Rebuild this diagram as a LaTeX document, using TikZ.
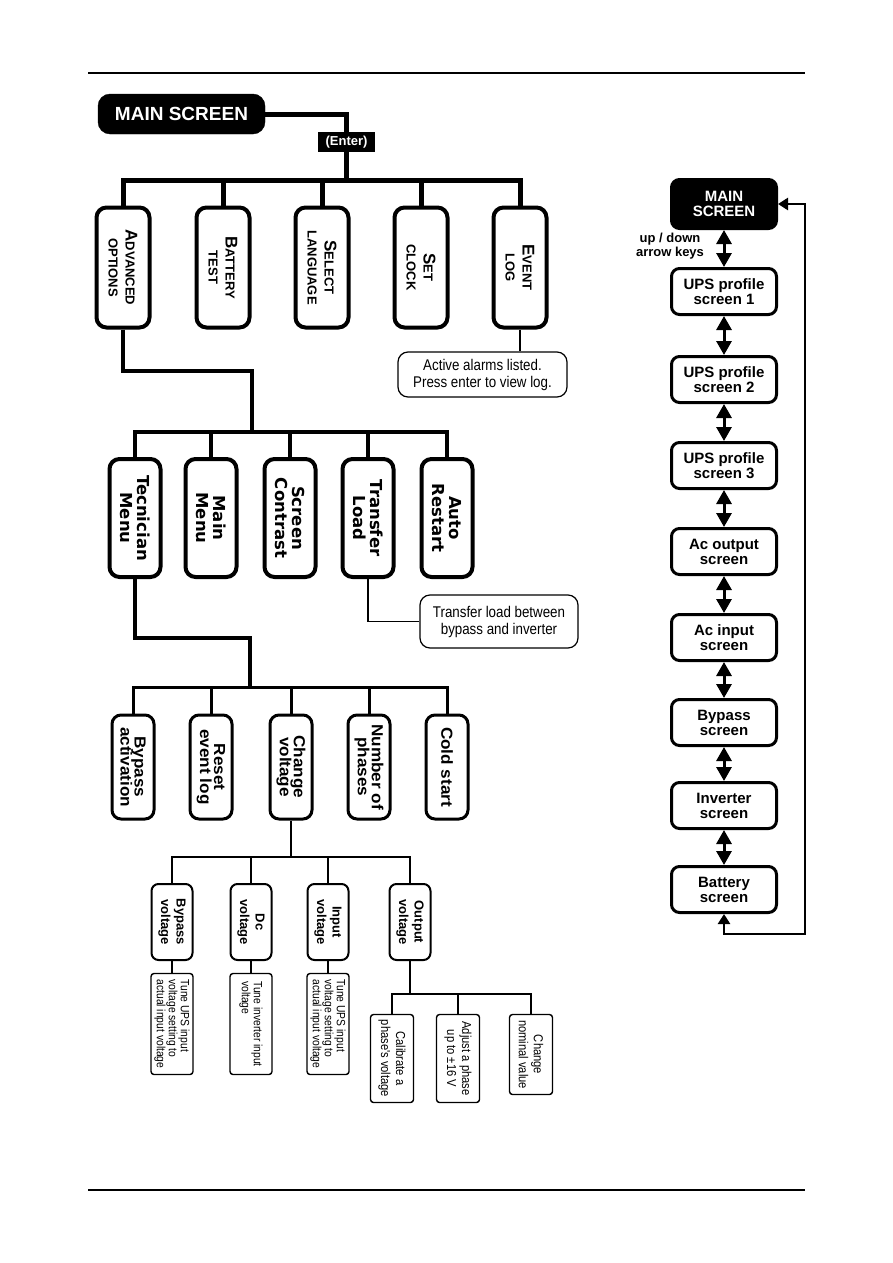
\documentclass[tikz,border=0pt]{standalone}
\usepackage{fontspec}
\setmainfont{Liberation Sans}
\newfontfamily\wideface{DejaVu Sans}
\newfontfamily\narrowface[FakeStretch=0.86]{Liberation Sans}
\newfontfamily\broadface[FakeStretch=1.07]{Liberation Sans}
\usepackage{graphicx}
\usepackage{xcolor}
\usepackage{tikz}
\usetikzlibrary{arrows.meta, positioning}
\definecolor{ink}{RGB}{0,0,0}
\newcommand{\vmid}[1]{\rotatebox{-90}{\vbox{\let\\\cr\lineskiplimit=-\maxdimen\halign{\hfil##\hfil\cr#1\crcr}}}}
\newcommand{\vleft}[1]{\rotatebox{-90}{\vbox{\let\\\cr\lineskiplimit=-\maxdimen\halign{##\hfil\cr#1\crcr}}}}
\newcommand{\capsc}[2]{{\fontsize{17}{16.5}\selectfont #1}{\fontsize{13}{16.5}\selectfont #2}}
\newcommand{\smsc}[1]{{\fontsize{13}{16.5}\selectfont #1}}

\begin{document}
\begin{tikzpicture}[x=1pt, y=-1pt,
    topbox/.style={rectangle, rounded corners=12pt, fill=ink, draw=ink, text=white, inner sep=0pt,
                   minimum width=167pt, minimum height=40pt, font=\fontsize{19}{20}\selectfont\bfseries},
    keytag/.style={rectangle, fill=ink, text=white, inner sep=0pt, minimum width=57pt, minimum height=20pt,
                   font=\fontsize{13}{14}\selectfont\bfseries},
    optbox/.style={rectangle, rounded corners=10pt, draw=ink, fill=white, line width=4pt, inner sep=0pt,
                   minimum width=53pt, minimum height=120pt, font=\fontsize{17}{17}\selectfont\bfseries},
    menubox/.style={rectangle, rounded corners=10pt, draw=ink, fill=white, line width=4pt, inner sep=0pt,
                    minimum width=51pt, minimum height=118pt, font=\wideface\bfseries\fontsize{16.5}{16.5}\selectfont},
    techbox/.style={rectangle, rounded corners=9pt, draw=ink, fill=white, line width=3pt, inner sep=0pt,
                    minimum width=42pt, minimum height=104pt, font=\broadface\bfseries\fontsize{16}{14}\selectfont},
    voltbox/.style={rectangle, rounded corners=7pt, draw=ink, fill=white, line width=2pt, inner sep=0pt,
                    minimum width=41pt, minimum height=76pt, font=\fontsize{13}{15.5}\selectfont\bfseries},
    descbox/.style={rectangle, rounded corners=3pt, draw=ink, fill=white, line width=1.4pt, inner sep=0pt,
                    minimum width=42pt, minimum height=101pt, font=\narrowface\fontsize{12}{12}\selectfont},
    leafbox/.style={rectangle, rounded corners=3pt, draw=ink, fill=white, line width=1.4pt, inner sep=0pt,
                    minimum width=43pt, minimum height=88pt, font=\narrowface\fontsize{13}{15}\selectfont},
    notebox/.style={rectangle, rounded corners=10pt, draw=ink, fill=white, line width=1.2pt, inner sep=0pt,
                    align=center, font=\narrowface\fontsize{15.5}{17}\selectfont},
    scrbox/.style={rectangle, rounded corners=8pt, draw=ink, fill=white, line width=3pt, inner sep=0pt,
                   minimum width=105pt, minimum height=46pt, align=center, font=\fontsize{15}{15}\selectfont\bfseries},
    scrtop/.style={scrbox, fill=ink, text=white, minimum height=49pt},
    wireA/.style={draw=ink, line width=5pt},
    wireB/.style={draw=ink, line width=4pt},
    wireC/.style={draw=ink, line width=3pt},
    wireD/.style={draw=ink, line width=1.6pt},
    thinwire/.style={draw=ink, line width=1.1pt},
    twoway/.style={draw=ink, line width=3pt, {Triangle[length=14pt,width=15pt]}-{Triangle[length=14pt,width=15pt]}},
    loopwire/.style={draw=ink, line width=2.5pt, {Triangle[length=10pt,width=12pt]}-{Triangle[length=10pt,width=12pt]}}
]
\useasboundingbox (0,0) rectangle (893,1263);
\draw[line width=1.3pt] (88,73) -- (805,73);
\draw[line width=1.3pt] (88,1190) -- (805,1190);

\node[topbox] (mainscr) at (181.5,114) {MAIN SCREEN};
\coordinate (hubA) at (346,180);
\draw[wireA] (mainscr.east) -| (hubA);
\node[keytag] (enterkey) at (346.5,142) {(Enter)};

\node[optbox] (advopt) at (123,267.5) {\vmid{\capsc{A}{DVANCED}\\\smsc{OPTIONS}}};
\node[optbox] (battest) at (223,267.5) {\vmid{\capsc{B}{ATTERY}\\\smsc{TEST}}};
\node[optbox] (sellang) at (322,267.5) {\vmid{\capsc{S}{ELECT}\\\smsc{LANGUAGE}}};
\node[optbox] (setclk) at (421,267.5) {\vmid{\capsc{S}{ET}\\\smsc{CLOCK}}};
\node[optbox] (evlog) at (520,267.5) {\vmid{\capsc{E}{VENT}\\\smsc{LOG}}};
\foreach \n in {advopt,battest,sellang,setclk,evlog}
  \draw[wireA] (hubA) -| (\n.north);

\node[notebox, minimum width=169pt, minimum height=45pt] (evnote) at (482.5,374.5) {Active alarms listed.\\Press enter to view log.};
\draw[thinwire] (evlog.south) -- (evlog.south |- evnote.north);

\coordinate (kneeA) at (252,371);
\coordinate (hubB) at (252,432);
\draw[wireB] (advopt.south) |- (kneeA) -- (hubB);

\node[menubox] (tecmenu) at (135,518) {\vmid{Tecnician\\Menu}};
\node[menubox] (mainmenu) at (211,518) {\vmid{Main\\Menu}};
\node[menubox] (scrcon) at (290,518) {\vmid{Screen\\Contrast}};
\node[menubox] (trload) at (368,518) {\vmid{Transfer\\Load}};
\node[menubox] (autors) at (447,518) {\vmid{Auto\\Restart}};
\foreach \n in {tecmenu,mainmenu,scrcon,trload,autors}
  \draw[wireB] (hubB) -| (\n.north);

\node[notebox, minimum width=158pt, minimum height=53pt] (trnote) at (499,621.5) {Transfer load between\\bypass and inverter};
\draw[thinwire] (trload.south) |- (trnote.west);

\coordinate (kneeB) at (250,638);
\coordinate (hubC) at (250,687);
\draw[wireB] (tecmenu.south) |- (kneeB) -- (hubC);

\node[techbox] (bypact) at (133,767) {\vmid{Bypass\\activation}};
\node[techbox] (resetlog) at (211,767) {\vmid{Reset\\event log}};
\node[techbox] (chgvolt) at (291,767) {\vmid{Change\\voltage}};
\node[techbox] (numph) at (369,767) {\vmid{Number of\\phases}};
\node[techbox] (coldst) at (447,767) {\vmid{Cold start}};
\foreach \n in {bypact,resetlog,chgvolt,numph,coldst}
  \draw[wireC] (hubC) -| (\n.north);

\coordinate (hubD) at (291,857);
\draw[wireD] (chgvolt.south) -- (hubD);
\node[voltbox] (bypvolt) at (172,922) {\vmid{Bypass\\voltage}};
\node[voltbox] (dcvolt) at (251,922) {\vmid{Dc\\voltage}};
\node[voltbox] (involt) at (328,922) {\vmid{Input\\voltage}};
\node[voltbox] (outvolt) at (410,922) {\vmid{Output\\voltage}};
\foreach \n in {bypvolt,dcvolt,involt,outvolt}
  \draw[wireD] (hubD) -| (\n.north);

\node[descbox] (bypdesc) at (172,1024) {\vleft{Tune UPS input\\voltage setting to\\actual input voltage}};
\node[descbox] (dcdesc) at (251,1024) {\vleft{Tune inverter input\\voltage}};
\node[descbox] (indesc) at (328,1024) {\vleft{Tune UPS input\\voltage setting to\\actual input voltage}};
\draw[thinwire] (bypvolt) -- (bypdesc);
\draw[thinwire] (dcvolt) -- (dcdesc);
\draw[thinwire] (involt) -- (indesc);

\coordinate (hubE) at (410,994);
\draw[wireD] (outvolt.south) -- (hubE);
\node[leafbox] (calph) at (392,1058.5) {\vmid{Calibrate a\\phase's voltage}};
\node[leafbox] (adjph) at (458,1058.5) {\vmid{Adjust a phase\\up to ±16 V}};
\node[leafbox, minimum height=80pt] (nomval) at (531,1054.5) {\vmid{Change\\nominal value}};
\foreach \n in {calph,adjph,nomval}
  \draw[wireD] (hubE) -| (\n.north);

\node[scrtop] (home) at (724,204) {MAIN\\SCREEN};
\node[scrbox] (prof1) at (724,291.5) {UPS profile\\screen 1};
\node[scrbox] (prof2) at (724,379.5) {UPS profile\\screen 2};
\node[scrbox] (prof3) at (724,465.5) {UPS profile\\screen 3};
\node[scrbox] (acout) at (724,551.5) {Ac output\\screen};
\node[scrbox] (acin) at (724,637.5) {Ac input\\screen};
\node[scrbox] (bypscr) at (724,722.5) {Bypass\\screen};
\node[scrbox] (invscr) at (724,805.5) {Inverter\\screen};
\node[scrbox] (batscr) at (724,889.5) {Battery\\screen};
\foreach \a/\b in {home/prof1,prof1/prof2,prof2/prof3,prof3/acout,acout/acin,acin/bypscr,bypscr/invscr,invscr/batscr}
  \draw[twoway] (\a.south) -- (\b.north);
\node[align=center, font=\fontsize{13}{13.5}\selectfont\bfseries] (keyhint) at (670,246) {up / down\\arrow keys};

\coordinate (loopbr) at (805,934);
\draw[loopwire] (home.east) -| (loopbr) -| (batscr.south);
\end{tikzpicture}
\end{document}
